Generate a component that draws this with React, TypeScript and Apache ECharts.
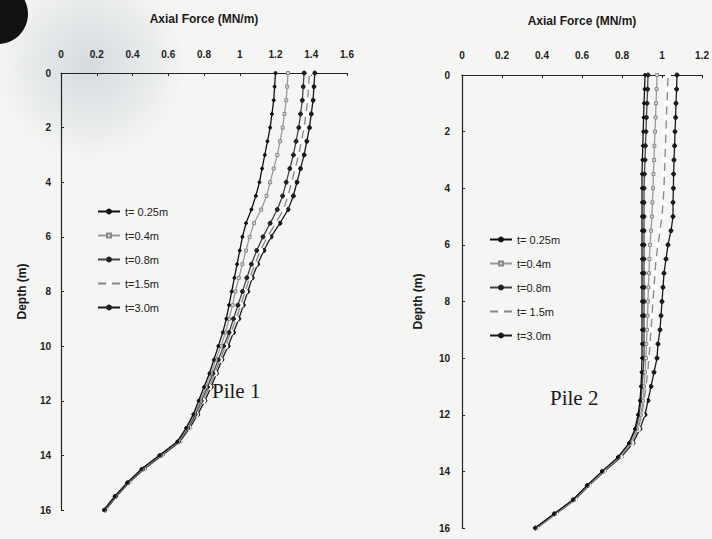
import React, { useEffect, useRef } from "react";
import * as echarts from "echarts";

const depths = [0, 0.5, 1, 1.5, 2, 2.5, 3, 3.5, 4, 4.5, 5, 5.5, 6, 6.5, 7, 7.5, 8, 8.5, 9, 9.5, 10, 10.5, 11, 11.5, 12, 12.5, 13, 13.5, 14, 14.5, 15, 15.5, 16];

const leftNames = ["t= 0.25m", "t=0.4m", "t=0.8m", "t=1.5m", "t=3.0m"];
const rightNames = ["t= 0.25m", "t=0.4m", "t=0.8m", "t= 1.5m", "t=3.0m"];

// Pile 1 axial force (MN/m)
const p1_t025 = [1.2, 1.195, 1.19, 1.18, 1.17, 1.155, 1.14, 1.125, 1.11, 1.09, 1.065, 1.035, 1.015, 1.0, 0.985, 0.97, 0.955, 0.94, 0.925, 0.905, 0.88, 0.855, 0.83, 0.8, 0.77, 0.74, 0.7, 0.65, 0.55, 0.45, 0.37, 0.3, 0.24];
const p1_t04 = [1.27, 1.265, 1.26, 1.25, 1.24, 1.225, 1.21, 1.19, 1.17, 1.15, 1.12, 1.08, 1.055, 1.035, 1.015, 0.995, 0.975, 0.96, 0.94, 0.92, 0.895, 0.865, 0.84, 0.81, 0.78, 0.745, 0.705, 0.655, 0.555, 0.455, 0.372, 0.302, 0.242];
const p1_t08 = [1.36, 1.355, 1.35, 1.34, 1.33, 1.315, 1.3, 1.28, 1.26, 1.24, 1.21, 1.17, 1.13, 1.095, 1.065, 1.04, 1.015, 0.99, 0.965, 0.94, 0.91, 0.88, 0.85, 0.82, 0.785, 0.75, 0.71, 0.658, 0.558, 0.458, 0.375, 0.305, 0.245];
const p1_t15 = [1.39, 1.385, 1.38, 1.37, 1.36, 1.345, 1.33, 1.31, 1.29, 1.27, 1.245, 1.2, 1.155, 1.115, 1.085, 1.055, 1.03, 1.005, 0.98, 0.95, 0.92, 0.89, 0.86, 0.83, 0.795, 0.755, 0.715, 0.66, 0.56, 0.46, 0.377, 0.307, 0.247];
const p1_t30 = [1.42, 1.415, 1.41, 1.4, 1.39, 1.375, 1.36, 1.34, 1.32, 1.3, 1.27, 1.225, 1.175, 1.135, 1.1, 1.07, 1.045, 1.02, 0.995, 0.965, 0.935, 0.9, 0.87, 0.84, 0.805, 0.765, 0.72, 0.665, 0.565, 0.465, 0.38, 0.31, 0.25];

// Pile 2 axial force (MN/m)
const p2_t025 = [0.915, 0.913, 0.91, 0.908, 0.906, 0.904, 0.902, 0.9, 0.9, 0.9, 0.9, 0.9, 0.9, 0.9, 0.9, 0.9, 0.9, 0.9, 0.9, 0.9, 0.9, 0.898, 0.895, 0.89, 0.88, 0.865, 0.835, 0.78, 0.7, 0.625, 0.555, 0.46, 0.365];
const p2_t04 = [0.975, 0.973, 0.97, 0.968, 0.965, 0.962, 0.96, 0.957, 0.955, 0.952, 0.95, 0.945, 0.94, 0.937, 0.935, 0.932, 0.93, 0.928, 0.925, 0.922, 0.92, 0.915, 0.91, 0.905, 0.895, 0.875, 0.842, 0.785, 0.705, 0.63, 0.56, 0.465, 0.37];
const p2_t08 = [0.93, 0.928, 0.925, 0.922, 0.92, 0.917, 0.915, 0.912, 0.91, 0.91, 0.91, 0.91, 0.91, 0.91, 0.91, 0.91, 0.91, 0.91, 0.91, 0.91, 0.91, 0.905, 0.9, 0.895, 0.885, 0.87, 0.838, 0.782, 0.702, 0.627, 0.557, 0.462, 0.367];
const p2_t15 = [1.03, 1.028, 1.025, 1.022, 1.02, 1.017, 1.015, 1.012, 1.01, 1.005, 1.0, 0.99, 0.98, 0.97, 0.965, 0.96, 0.955, 0.95, 0.945, 0.94, 0.935, 0.928, 0.92, 0.91, 0.9, 0.88, 0.847, 0.79, 0.708, 0.632, 0.562, 0.467, 0.372];
const p2_t30 = [1.075, 1.073, 1.07, 1.068, 1.065, 1.063, 1.06, 1.058, 1.057, 1.055, 1.055, 1.045, 1.03, 1.02, 1.01, 1.005, 1.0, 0.995, 0.99, 0.98, 0.975, 0.96, 0.945, 0.93, 0.915, 0.89, 0.855, 0.795, 0.712, 0.635, 0.565, 0.47, 0.375];

const pile1 = [p1_t025, p1_t04, p1_t08, p1_t15, p1_t30];
const pile2 = [p2_t025, p2_t04, p2_t08, p2_t15, p2_t30];

const styles = [
  { line: "#111", symbol: "circle", size: 3, fill: "#111", border: "#111" },
  { line: "#9a9a9a", symbol: "rect", size: 3, fill: "#d8d8d8", border: "#8a8a8a" },
  { line: "#444", symbol: "circle", size: 4, fill: "#222", border: "#222" },
  { line: "#888", symbol: "emptyCircle", size: 4, fill: "#fff", border: "#666" },
  { line: "#1a1a1a", symbol: "circle", size: 4, fill: "#1a1a1a", border: "#1a1a1a" },
];

const FONT = "Liberation Sans, Arial, sans-serif";
const SERIF = "Liberation Serif, Times New Roman, serif";

function makeSeries(values: number[][], names: string[], idx: number) {
  return values.map((vals, i) => ({
    type: "line",
    name: names[i],
    xAxisIndex: idx,
    yAxisIndex: idx,
    data: depths.map((d, j) => [vals[j], d]),
    symbol: styles[i].symbol,
    symbolSize: styles[i].size,
    showAllSymbol: true,
    lineStyle: { color: styles[i].line, width: 1.3 },
    itemStyle: { color: styles[i].fill, borderColor: styles[i].border, borderWidth: 1 },
    z: 10 - i,
  }));
}

function xAxis(idx: number, max: number, labelMargin: number, nameGap: number) {
  return {
    type: "value",
    gridIndex: idx,
    position: "top",
    min: 0,
    max,
    interval: 0.2,
    name: "Axial Force (MN/m)",
    nameLocation: "middle",
    nameGap,
    nameTextStyle: { fontFamily: FONT, fontWeight: "bold", fontSize: 12, color: "#1a1a1a" },
    axisLine: { show: true, lineStyle: { color: "#222", width: 1.2 } },
    axisTick: { show: true, inside: true, length: 3, lineStyle: { color: "#222" } },
    splitLine: { show: false },
    axisLabel: { fontFamily: FONT, fontSize: 10, fontWeight: "bold", color: "#222", margin: labelMargin },
  };
}

function yAxis(idx: number, nameGap: number, labelMargin: number) {
  return {
    type: "value",
    gridIndex: idx,
    inverse: true,
    min: 0,
    max: 16,
    interval: 2,
    name: "Depth (m)",
    nameLocation: "middle",
    nameRotate: 90,
    nameGap,
    nameTextStyle: { fontFamily: FONT, fontWeight: "bold", fontSize: 12, color: "#1a1a1a" },
    axisLine: { show: true, onZero: false, lineStyle: { color: "#222", width: 1.2 } },
    axisTick: { show: true, inside: true, length: 3, lineStyle: { color: "#222" } },
    splitLine: { show: false },
    axisLabel: { fontFamily: FONT, fontSize: 10, fontWeight: "bold", color: "#222", margin: labelMargin },
  };
}

function legend(names: string[], left: number, top: number) {
  return {
    data: names,
    left,
    top,
    orient: "vertical",
    itemGap: 11,
    itemWidth: 22,
    itemHeight: 5,
    selectedMode: false,
    textStyle: { fontFamily: FONT, fontSize: 11, color: "#222", lineHeight: 13 },
  };
}

export default function App() {
  const ref = useRef<HTMLDivElement>(null);
  useEffect(() => {
    document.body.style.margin = "0";
    const chart = echarts.init(ref.current!, undefined, { renderer: "svg" });
    chart.setOption({
      animation: false,
      backgroundColor: "#f5f5f3",
      grid: [
        { left: 61, top: 73, width: 286, height: 437 },
        { left: 462, top: 75, width: 240, height: 453 },
      ],
      xAxis: [xAxis(0, 1.6, 14, 48), xAxis(1, 1.2, 15, 48)],
      yAxis: [yAxis(0, 33, 10), yAxis(1, 38, 12)],
      legend: [legend(leftNames, 92, 200), legend(rightNames, 484, 228)],
      graphic: [
        {
          type: "circle",
          shape: { cx: 90, cy: 65, r: 95 },
          style: {
            fill: {
              type: "radial",
              x: 0.5,
              y: 0.5,
              r: 0.5,
              colorStops: [
                { offset: 0, color: "rgba(150,170,185,0.35)" },
                { offset: 1, color: "rgba(150,170,185,0)" },
              ],
            },
          },
          silent: true,
          z: -1,
        },
        {
          type: "circle",
          shape: { cx: -2, cy: 14, r: 30 },
          style: { fill: "#111" },
          silent: true,
        },
        {
          type: "text",
          left: 212,
          top: 380,
          style: { text: "Pile 1", fontFamily: SERIF, fontSize: 21, fill: "#1a1a1a" },
        },
        {
          type: "text",
          left: 550,
          top: 387,
          style: { text: "Pile 2", fontFamily: SERIF, fontSize: 21, fill: "#1a1a1a" },
        },
      ],
      series: [...makeSeries(pile1, leftNames, 0), ...makeSeries(pile2, rightNames, 1)],
    });
    return () => chart.dispose();
  }, []);
  return <div ref={ref} style={{ width: 712, height: 539 }} />;
}
